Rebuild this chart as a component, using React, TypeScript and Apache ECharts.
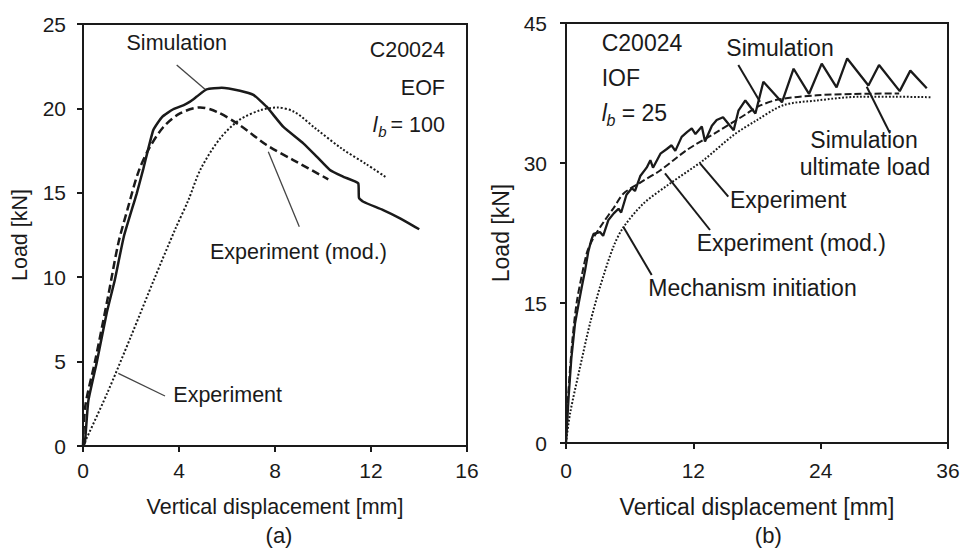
import React, { useEffect, useRef } from "react";
import * as echarts from "echarts";

const FONT = '"Liberation Sans", Arial, Helvetica, sans-serif';
const INK = "#1a1a1a";

// ---------- Panel (a): C20024 EOF, l_b = 100 ----------
const A_X_TICKS = { min: 0, max: 16, interval: 4 };
const A_Y_TICKS = { min: 0, max: 25, interval: 5 };

const aSimX = [0, 0.08, 0.22, 0.57, 0.99, 1.33, 1.7, 2.24, 2.51, 2.93, 3.3, 3.76, 4.2, 4.46, 4.74, 5.15, 5.78, 6.54, 7.1, 7.65, 8.35, 9.18, 9.74, 10.29, 10.85, 11.47, 11.5, 11.68, 12.51, 13.21, 14.01];
const aSimY = [0, 0.2, 2.65, 4.93, 7.89, 9.86, 12.4, 14.97, 16.4, 18.72, 19.5, 19.95, 20.2, 20.4, 20.7, 21.13, 21.23, 21.05, 20.8, 20.1, 18.9, 17.93, 17.14, 16.35, 15.95, 15.56, 14.7, 14.47, 13.98, 13.49, 12.84];

const aModX = [0, 0.1, 0.5, 1.05, 1.47, 1.85, 2.3, 2.72, 3.35, 4.04, 4.88, 5.57, 6.54, 7.65, 8.76, 10.22];
const aModY = [0, 2.4, 5.0, 8.9, 12.0, 14.0, 16.2, 17.54, 18.9, 19.7, 20.06, 19.8, 19.0, 17.83, 16.94, 15.8];

const aExpX = [0, 1.0, 2.0, 3.0, 3.83, 4.4, 4.9, 5.7, 6.5, 7.4, 8.1, 8.8, 9.7, 10.8, 11.8, 12.65];
const aExpY = [0, 3.1, 6.5, 10.0, 12.8, 14.6, 16.4, 18.2, 19.3, 19.9, 20.05, 19.8, 18.8, 17.6, 16.7, 15.9];

// ---------- Panel (b): C20024 IOF, l_b = 25 ----------
const B_X_TICKS = { min: 0, max: 36, interval: 12 };
const B_Y_TICKS = { min: 0, max: 45, interval: 15 };

const bSimX = [0, 0.1, 0.25, 0.5, 0.85, 1.2, 1.5, 1.8, 2.1, 2.4, 2.6, 3.2, 3.5, 4.0, 4.5, 4.95, 5.2, 5.7, 6.2, 6.5, 7.0, 7.6, 7.95, 8.2, 8.9, 9.5, 9.95, 10.3, 10.9, 11.4, 11.85, 12.2, 12.8, 13.1, 13.75, 14.2, 14.8, 15.8, 16.25, 16.9, 17.85, 18.6, 20.35, 21.45, 22.9, 24.1, 25.5, 26.5, 28.5, 29.5, 31.45, 32.45, 34.0];
const bSimY = [0, 2, 5, 9, 12.8, 15, 16.8, 18.5, 20.5, 21.8, 22.4, 22.6, 22.2, 23.9, 24.6, 25.1, 24.7, 26.6, 27.3, 27.0, 28.6, 29.5, 30.3, 29.5, 31.0, 31.5, 31.9, 31.3, 32.8, 33.3, 33.7, 33.1, 33.9, 32.3, 34.0, 34.6, 34.9, 33.5, 35.6, 36.7, 35.3, 38.7, 36.5, 40.1, 37.4, 40.65, 38.1, 41.2, 38.3, 40.5, 37.7, 39.9, 38.0];

const bModX = [0, 0.2, 0.6, 1.0, 1.5, 2.0, 2.6, 3.5, 4.5, 5.4, 7.0, 8.87, 11.4, 14.2, 17.05, 18.0, 20.0, 23.65, 27.0, 31.4];
const bModY = [0, 5, 11, 15, 18, 20.5, 22, 23.6, 25.2, 26.7, 27.9, 29.2, 31.4, 33.3, 35.3, 36.0, 36.8, 37.25, 37.4, 37.45];

const bExpX = [0, 0.38, 1.32, 2.26, 3.2, 4.46, 5.4, 7.3, 9.8, 12.95, 15.8, 18.0, 20.5, 23.65, 27.7, 31.0, 34.35];
const bExpY = [0, 3.15, 8.1, 12.8, 16.7, 21.0, 23.1, 25.65, 27.8, 30.3, 33.0, 34.6, 36.2, 36.7, 37.1, 37.1, 37.05];

const X_NAME = "Vertical displacement [mm]";
const Y_NAME = "Load [kN]";

const zip = (xs: number[], ys: number[]) => xs.map((x, i) => [x, ys[i]]);

function axisOf(kind: "x" | "y", grid: number, t: any, fs: number, gap: number, margin: number) {
  return {
    type: "value",
    gridIndex: grid,
    ...t,
    name: kind === "x" ? X_NAME : Y_NAME,
    nameLocation: "middle",
    nameGap: gap,
    nameTextStyle: { color: INK, fontSize: fs, fontFamily: FONT },
    axisLine: { show: true, onZero: false, lineStyle: { color: INK, width: 2 } },
    axisTick: { show: true, inside: false, length: 6, lineStyle: { color: INK, width: 2 } },
    splitLine: { show: false },
    axisLabel: { color: INK, fontSize: 21, fontFamily: FONT, margin },
  };
}

function line(idx: number, name: string, data: number[][], width: number, type: any, smooth: number | boolean) {
  return {
    type: "line",
    name,
    xAxisIndex: idx,
    yAxisIndex: idx,
    data,
    showSymbol: false,
    symbol: "none",
    smooth,
    clip: true,
    lineStyle: { color: INK, width, type, cap: "butt" },
    z: 3,
  };
}

function txt(x: number, y: number, text: string, align: string, fs: number, extra: any = {}) {
  return {
    type: "text",
    x,
    y,
    z: 10,
    style: {
      text,
      fill: INK,
      fontSize: fs,
      fontFamily: FONT,
      align,
      verticalAlign: "middle",
      textAlign: align,
      textVerticalAlign: "middle",
      ...extra,
    },
  };
}

function seg(x1: number, y1: number, x2: number, y2: number, w: number, c: string) {
  return {
    type: "line",
    z: 10,
    shape: { x1, y1, x2, y2 },
    style: { stroke: c, lineWidth: w },
  };
}

const FA = 21.5;
const FB = 23;

const graphics = [
  // panel (a)
  txt(176.7, 43.3, "Simulation", "center", FA),
  seg(176.7, 65, 205, 89.3, 1.3, "#444"),
  txt(445, 50, "C20024", "right", FA),
  txt(445, 88, "EOF", "right", FA),
  txt(445, 125, "= 100", "right", FA),
  txt(386.5, 131, "b", "right", 15, { fontStyle: "italic" }),
  txt(377.5, 125, "l", "right", FA, { fontStyle: "italic" }),
  txt(210, 251.7, "Experiment (mod.)", "left", FA),
  seg(268.3, 151.7, 299.3, 226.7, 1.3, "#444"),
  txt(173.3, 395, "Experiment", "left", FA),
  seg(118.3, 373.3, 165, 396, 1.3, "#444"),
  txt(279, 535, "(a)", "center", 22),
  // panel (b)
  txt(601.7, 43.3, "C20024", "left", FB),
  txt(601.7, 78.3, "IOF", "left", FB),
  txt(601.7, 113.3, "l", "left", FB, { fontStyle: "italic" }),
  txt(606.5, 120, "b", "left", 16, { fontStyle: "italic" }),
  txt(621.7, 113.3, "= 25", "left", FB),
  txt(780, 48.3, "Simulation", "center", FB),
  seg(738.3, 65, 760, 101.7, 2, INK),
  txt(864, 140, "Simulation", "center", FB),
  txt(865, 166.7, "ultimate load", "center", FB),
  seg(866.7, 86.7, 890, 133.3, 2, INK),
  txt(730, 200, "Experiment", "left", FB),
  seg(700, 163.3, 728.3, 196.7, 2, INK),
  txt(696.7, 243.3, "Experiment (mod.)", "left", FB),
  seg(665, 173.3, 710, 230, 2, INK),
  txt(648.3, 288.3, "Mechanism initiation", "left", FB),
  seg(623.3, 226.7, 651.7, 275, 2, INK),
  txt(768.3, 535, "(b)", "center", 22),
];

const option: any = {
  animation: false,
  backgroundColor: "#ffffff",
  textStyle: { fontFamily: FONT },
  grid: [
    { left: 83, top: 24, width: 384, height: 422, show: true, borderColor: INK, borderWidth: 2, backgroundColor: "transparent", containLabel: false },
    { left: 566, top: 23, width: 382, height: 420, show: true, borderColor: INK, borderWidth: 2, backgroundColor: "transparent", containLabel: false },
  ],
  xAxis: [axisOf("x", 0, A_X_TICKS, FA, 50, 14), axisOf("x", 1, B_X_TICKS, FB, 52, 17)],
  yAxis: [axisOf("y", 0, A_Y_TICKS, FA, 52, 17), axisOf("y", 1, B_Y_TICKS, FB, 54, 19)],
  series: [
    line(0, "Experiment", zip(aExpX, aExpY), 2, [2, 2], 0.3),
    line(0, "Experiment (mod.)", zip(aModX, aModY), 2.5, [8, 4], 0.3),
    line(0, "Simulation", zip(aSimX, aSimY), 2.5, "solid", 0.15),
    line(1, "Mechanism initiation", zip(bExpX, bExpY), 2, [1.8, 1.8], 0.3),
    line(1, "Experiment (mod.)", zip(bModX, bModY), 2, [7, 3], 0.3),
    line(1, "Simulation", zip(bSimX, bSimY), 2.3, "solid", false),
  ],
  graphic: graphics,
};

export default function App() {
  const ref = useRef<HTMLDivElement>(null);
  useEffect(() => {
    document.body.style.margin = "0";
    const chart = echarts.init(ref.current!, null, { renderer: "svg" });
    chart.setOption(option);
    return () => chart.dispose();
  }, []);
  return (
    <div
      ref={ref}
      style={{ position: "absolute", left: 0, top: 0, width: 963, height: 548, background: "#fff" }}
    />
  );
}
